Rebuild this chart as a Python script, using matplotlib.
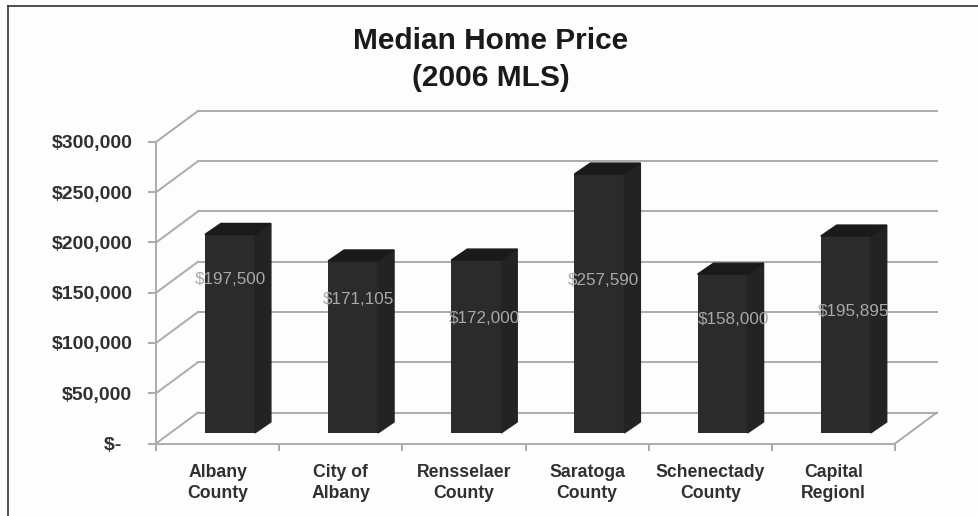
import matplotlib.pyplot as plt
from matplotlib.lines import Line2D
from matplotlib.patches import Polygon
from matplotlib.ticker import FixedLocator

plt.rcParams["font.family"] = ["Liberation Sans", "DejaVu Sans"]

categories = [
    "Albany\nCounty",
    "City of\nAlbany",
    "Rensselaer\nCounty",
    "Saratoga\nCounty",
    "Schenectady\nCounty",
    "Capital\nRegionl",
]
prices = [197500, 171105, 172000, 257590, 158000, 195895]
price_labels = ["$197,500", "$171,105", "$172,000", "$257,590", "$158,000", "$195,895"]
y_ticks = [0, 50000, 100000, 150000, 200000, 250000, 300000]
y_tick_labels = ["$-  ", "$50,000", "$100,000", "$150,000", "$200,000", "$250,000", "$300,000"]

# where each value label sits, the labels are placed by hand in the original
label_x = [0.605, 1.64, 2.67, 3.63, 4.69, 5.66]
label_y = [163000, 143000, 124000, 162000, 123000, 131000]

W, H = 979, 516
left, right = 156, 895
top, bottom = 142, 443.5

# 3d look: how far the back wall is from the front plane, in data units
wall_dx = 42 / 123.2
wall_dy = 31 / 1.005
depth_dx = 16 / 123.2
depth_dy = 11 / 1.005
bar_width = 50 / 123.2
bar_x0 = 0.4
bar_y0 = 10500

grid_color = "#ababab"
front_color = "#2b2b2b"
side_color = "#232323"
top_color = "#1a1a1a"
text_color = "#303030"

fig = plt.figure(figsize=(W / 100, H / 100), dpi=100, facecolor="#fdfdfd")
ax = fig.add_axes([left / W, 1 - bottom / H, (right - left) / W, (bottom - top) / H])
ax.set_facecolor("none")
ax.set_xlim(0, len(categories))
ax.set_ylim(0, 300000)

for spine in ["top", "right"]:
    ax.spines[spine].set_visible(False)
for spine in ["left", "bottom"]:
    ax.spines[spine].set_color(grid_color)
    ax.spines[spine].set_linewidth(1.4)

# gridlines on the back wall and the diagonals that lead to them
n = len(categories)
for v in y_ticks:
    ax.plot([0, wall_dx], [v, v + wall_dy * 1000], color=grid_color, lw=1.4, clip_on=False, zorder=1)
    ax.plot([wall_dx, n + wall_dx], [v + wall_dy * 1000] * 2, color=grid_color, lw=1.4, clip_on=False, zorder=1)
ax.plot([n, n + wall_dx], [0, wall_dy * 1000], color=grid_color, lw=1.4, clip_on=False, zorder=1)

# bars: front face from ax.bar, side and top added as polygons
lefts = [i + bar_x0 - bar_width / 2 + 0.2 for i in range(n)]
ax.bar(lefts, [p for p in prices], width=bar_width, bottom=bar_y0, align="edge",
       color=front_color, zorder=3)
for x0, p in zip(lefts, prices):
    x1 = x0 + bar_width
    y0, y1 = bar_y0, bar_y0 + p
    dx, dy = depth_dx, depth_dy * 1000
    ax.add_patch(Polygon([(x1, y0), (x1 + dx, y0 + dy), (x1 + dx, y1 + dy), (x1, y1)],
                         color=side_color, zorder=3, clip_on=False))
    ax.add_patch(Polygon([(x0, y1), (x0 + dx, y1 + dy), (x1 + dx, y1 + dy), (x1, y1)],
                         color=top_color, zorder=3, clip_on=False))

for x, y, s in zip(label_x, label_y, price_labels):
    ax.text(x, y, s, ha="center", va="center", fontsize=12.3, color="#a8a8a8", zorder=4)

ax.set_yticks(y_ticks)
ax.set_yticklabels(y_tick_labels, fontsize=14, fontweight="bold", color=text_color)
ax.set_xticks([i + 0.5 for i in range(n)])
ax.set_xticklabels(categories, fontsize=12.7, fontweight="bold", color=text_color, linespacing=1.32)
ax.xaxis.set_minor_locator(FixedLocator(list(range(n + 1))))
ax.tick_params(axis="x", which="major", length=0, pad=14.5)
ax.tick_params(axis="x", which="minor", length=5, width=1.4, color=grid_color)
ax.tick_params(axis="y", length=6, width=1.4, color=grid_color, pad=11)

fig.text(491 / W, 1 - 59.5 / H, "Median Home Price\n(2006 MLS)", ha="center", va="center",
         fontsize=21.5, fontweight="bold", color="#1a1a1a", linespacing=1.42)

# frame of the scanned page: only left and top are visible
fig.add_artist(Line2D([8 / W, 8 / W], [0, 1 - 6 / H], color="#333333", lw=1.2))
fig.add_artist(Line2D([8 / W, 1], [1 - 6 / H, 1 - 6 / H], color="#333333", lw=1.2))

fig.savefig("out.png", dpi=100, facecolor=fig.get_facecolor())
